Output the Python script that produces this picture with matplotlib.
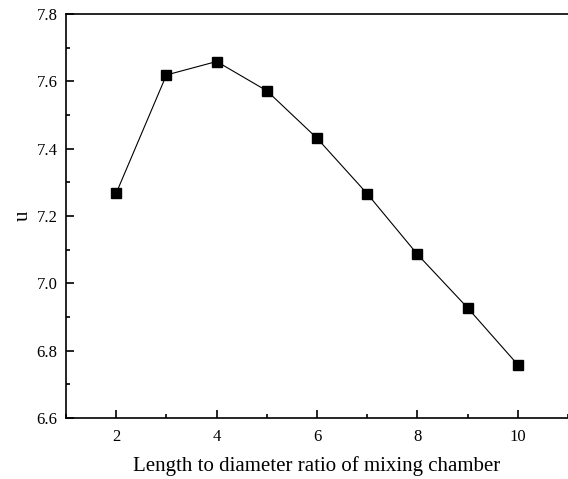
import matplotlib.pyplot as plt
from matplotlib.ticker import MultipleLocator

ratio = [2, 3, 4, 5, 6, 7, 8, 9, 10]
u = [7.268, 7.619, 7.659, 7.572, 7.431, 7.266, 7.086, 6.927, 6.758]

plt.rcParams['font.family'] = 'Liberation Serif'

fig = plt.figure(figsize=(5.68, 4.79), dpi=100)
ax = fig.add_axes([0.1162, 0.1273, 0.884, 0.8434])

ax.plot(ratio, u, color='black', linewidth=0.8, marker='s', markersize=7)

ax.set_xlim(1, 11)
ax.set_ylim(6.6, 7.8)
ax.xaxis.set_major_locator(MultipleLocator(2))
ax.xaxis.set_minor_locator(MultipleLocator(1))
ax.yaxis.set_major_locator(MultipleLocator(0.2))
ax.yaxis.set_minor_locator(MultipleLocator(0.1))
ax.yaxis.set_major_formatter(plt.FormatStrFormatter('%.1f'))
ax.tick_params(which='both', direction='in', labelsize=12, width=1.2)
ax.tick_params(which='major', length=6)
ax.tick_params(which='minor', length=3)
ax.tick_params(axis='x', pad=8)
ax.tick_params(axis='y', pad=6)
for s in ax.spines.values():
    s.set_linewidth(1.2)
ax.spines['right'].set_visible(False)

ax.set_xlabel('Length to diameter ratio of mixing chamber', fontsize=15, labelpad=8)
ax.set_ylabel('u', fontsize=15, labelpad=3)

fig.savefig('out.png', dpi=100)
